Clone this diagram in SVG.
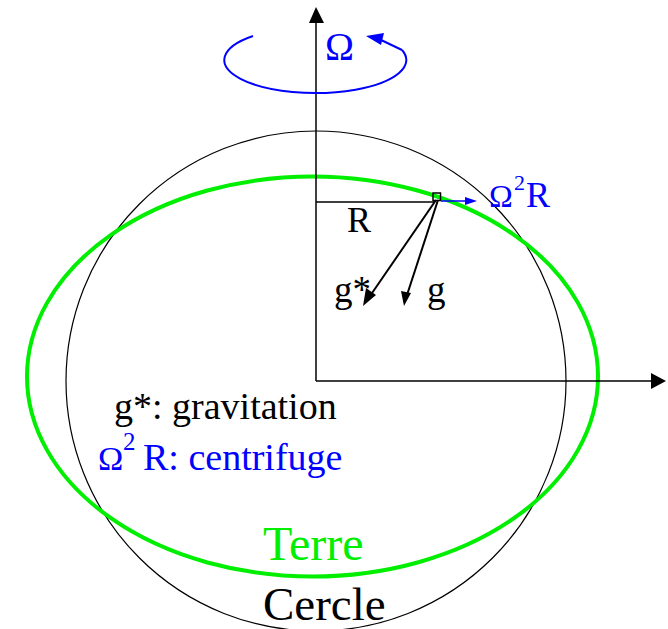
<svg xmlns="http://www.w3.org/2000/svg" width="668" height="629" viewBox="0 0 668 629">
<style>
.t{font-family:"Liberation Serif","Times New Roman",serif}
.k{fill:#000}
.b{fill:#0000ff}
.gr{fill:#00ee00}
.ax{stroke:#000;stroke-width:1.5;fill:none}
.vec{stroke:#000;stroke-width:2;fill:none}
</style>
<rect width="668" height="629" fill="#fff"/>
<g id="cercle">
<circle cx="316" cy="381" r="250" fill="none" stroke="#000" stroke-width="1.2"/>
</g>
<g id="terre">
<ellipse cx="312.5" cy="376.5" rx="285.5" ry="200" fill="none" stroke="#00ee00" stroke-width="4"/>
</g>
<g id="axes">
<line class="ax" x1="316" y1="20" x2="316" y2="381"/>
<polygon points="316,7 309,23 324,23" fill="#000"/>
<line class="ax" x1="316" y1="381" x2="653" y2="381"/>
<polygon points="666,381 651,373 651,389" fill="#000"/>
</g>
<g id="rotation">
<path d="M253,36 A91,33 0 1 0 402,50" fill="none" stroke="#0000ff" stroke-width="2"/>
<line x1="402" y1="50" x2="380" y2="39.5" stroke="#0000ff" stroke-width="2"/>
<polygon points="366,36 384,33 381,45" fill="#0000ff"/>
<text class="t b" x="325" y="60" font-size="39">Ω</text>
</g>
<g id="connectors">
<line x1="316" y1="202" x2="434" y2="202" stroke="#000" stroke-width="1.5"/>
<line x1="441" y1="201" x2="466" y2="201" stroke="#0000ff" stroke-width="1.5"/>
<polygon points="477,201 465,197 465,205" fill="#0000ff"/>
<line class="vec" x1="436" y1="200" x2="370" y2="296"/>
<polygon points="363,306 366,288 376,295" fill="#000"/>
<line class="vec" x1="438" y1="200" x2="407" y2="295"/>
<polygon points="404,306 401,291 411,293" fill="#000"/>
<rect x="433" y="193" width="7.5" height="7.5" fill="none" stroke="#000" stroke-width="1.5"/>
</g>
<g id="labels">
<text class="t k" x="347" y="232" font-size="36">R</text>
<text class="t b" x="489" y="207" font-size="32">Ω</text>
<text class="t b" x="514" y="190" font-size="22">2</text>
<text class="t b" x="526" y="207" font-size="36">R</text>
<text class="t k" x="334" y="302" font-size="37">g*</text>
<text class="t k" x="427" y="302" font-size="37">g</text>
<text class="t k" x="114" y="419" font-size="38">g*: gravitation</text>
<text class="t b" x="98" y="470" font-size="34">Ω</text>
<text class="t b" x="123" y="450" font-size="25">2</text>
<text class="t b" x="143" y="470" font-size="38">R: centrifuge</text>
<text class="t gr" x="263" y="560" font-size="48">Terre</text>
<text class="t k" x="263" y="620" font-size="47">Cercle</text>
</g>
</svg>
